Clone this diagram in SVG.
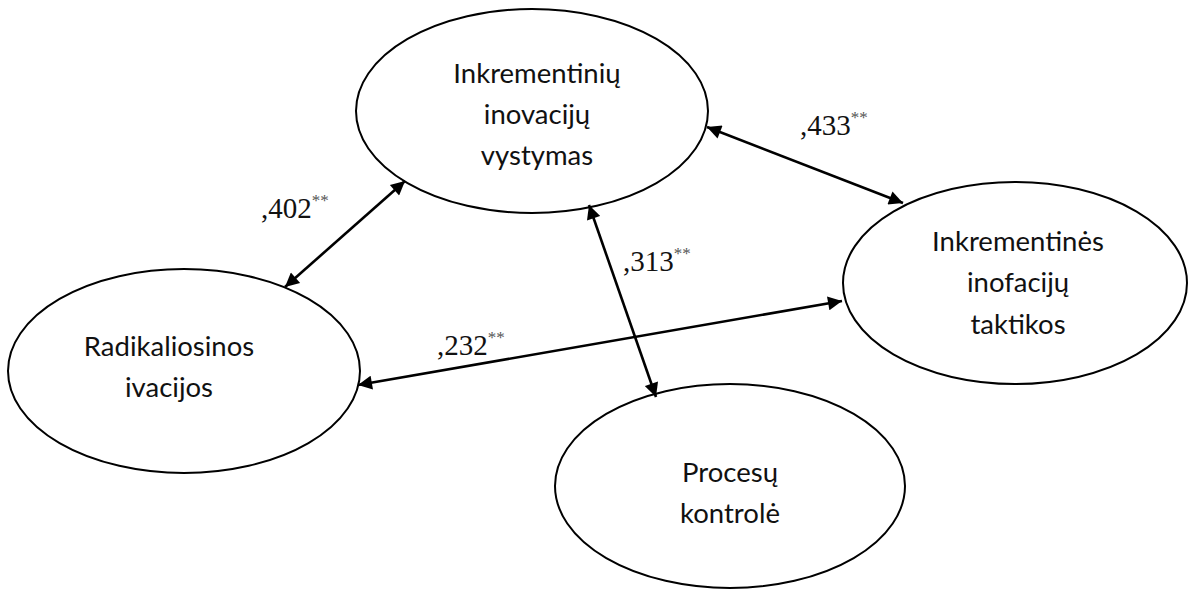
<svg xmlns="http://www.w3.org/2000/svg" width="1189" height="589" viewBox="0 0 1189 589">
  <style>
    .node ellipse { fill: #ffffff; stroke: #000000; stroke-width: 2; }
    .node text { font-family: Lato, "Open Sans", sans-serif; font-size: 27.5px; fill: #111111; text-anchor: middle; }
    .edge line { stroke: #000000; stroke-width: 2.6; marker-start: url(#head); marker-end: url(#head); }
    .coef { font-family: "Liberation Serif", "Times New Roman", serif; font-size: 29px; fill: #111111; }
    .coef tspan.sig { font-size: 17px; fill: #555555; }
  </style>
  <defs>
    <marker id="head" viewBox="0 0 10 10" refX="10" refY="5" markerUnits="userSpaceOnUse" markerWidth="16" markerHeight="14" orient="auto-start-reverse">
      <path d="M0,0 L10,5 L0,10 z" fill="#000000"/>
    </marker>
  </defs>

  <!-- nodes -->
  <g id="node-inkrementiniu-inovaciju" class="node">
    <ellipse cx="532" cy="111" rx="176" ry="102"/>
    <text x="537" y="83">Inkrementinių</text>
    <text x="537" y="124">inovacijų</text>
    <text x="537" y="165">vystymas</text>
  </g>
  <g id="node-inkrementines-taktikos" class="node">
    <ellipse cx="1015" cy="283" rx="172" ry="101"/>
    <text x="1018" y="251">Inkrementinės</text>
    <text x="1018" y="292">inofacijų</text>
    <text x="1018" y="334">taktikos</text>
  </g>
  <g id="node-radikaliosios" class="node">
    <ellipse cx="184" cy="371" rx="176" ry="102"/>
    <text x="169" y="356">Radikaliosinos</text>
    <text x="169" y="397">ivacijos</text>
  </g>
  <g id="node-procesu-kontrole" class="node">
    <ellipse cx="730" cy="486" rx="175" ry="102"/>
    <text x="730" y="482">Procesų</text>
    <text x="730" y="523">kontrolė</text>
  </g>

  <!-- connectors -->
  <g id="connectors" class="edge">
    <line x1="285" y1="287" x2="405" y2="181"/>
    <line x1="589" y1="205" x2="656" y2="397"/>
    <line x1="707" y1="127" x2="903" y2="203"/>
    <line x1="358" y1="385" x2="842" y2="301"/>
  </g>

  <!-- correlation coefficients -->
  <g id="labels">
    <text class="coef" x="261" y="218">,402<tspan class="sig" dy="-12">**</tspan></text>
    <text class="coef" x="623" y="271">,313<tspan class="sig" dy="-12">**</tspan></text>
    <text class="coef" x="800" y="135">,433<tspan class="sig" dy="-12">**</tspan></text>
    <text class="coef" x="437" y="355">,232<tspan class="sig" dy="-12">**</tspan></text>
  </g>
</svg>
